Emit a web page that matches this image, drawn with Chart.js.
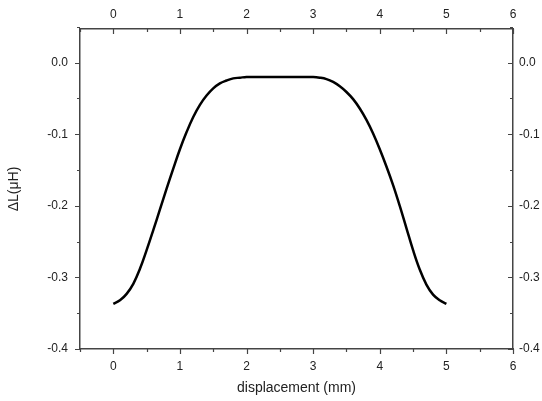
<!DOCTYPE html>
<html>
<head>
<meta charset="utf-8">
<script src="https://cdn.jsdelivr.net/npm/chart.js@4/dist/chart.umd.min.js"></script>
<style>
  body { margin: 0; background: #fff; }
  #wrap { width: 542px; height: 401px; }
</style>
</head>
<body>
<div id="wrap"><canvas id="chart" width="542" height="401"></canvas></div>
<script>
const displacement = [0, 0.1, 0.2, 0.3, 0.4, 0.5, 0.6, 0.7, 0.8, 0.9, 1.0, 1.1, 1.2, 1.3, 1.4, 1.5, 1.6, 1.7, 1.8, 1.9,
    2.0, 2.2, 2.5, 2.8, 3.0, 3.1, 3.2, 3.3, 3.4, 3.5, 3.6, 3.7, 3.8, 3.9, 4.0, 4.1, 4.2, 4.3, 4.4, 4.5, 4.6, 4.7, 4.8, 4.9, 5.0];
const deltaL = [-0.337, -0.332, -0.323, -0.309, -0.288, -0.262, -0.234, -0.205, -0.176, -0.148, -0.121, -0.097, -0.076, -0.059, -0.046, -0.036, -0.029, -0.025, -0.022, -0.021,
    -0.020, -0.020, -0.020, -0.020, -0.020, -0.021, -0.023, -0.027, -0.033, -0.041, -0.051, -0.064, -0.080, -0.099, -0.121, -0.145, -0.171, -0.200, -0.231, -0.262, -0.289, -0.310, -0.324, -0.332, -0.337];

const xTicks = [0, 1, 2, 3, 4, 5, 6];
const yTicks = [0.0, -0.1, -0.2, -0.3, -0.4];

const axisColor = '#444';
const font = { family: 'Liberation Sans, Arial, sans-serif', size: 12 };

// tick marks drawn by hand: major + minor, in/out like the original
const tickMarks = {
    id: 'tickMarks',
    afterDraw(chart) {
        const ctx = chart.ctx;
        const s = chart.scales;
        ctx.save();
        ctx.strokeStyle = axisColor;
        ctx.lineWidth = 1.2;
        ctx.beginPath();
        for (let v = -0.5; v <= 6.001; v += 0.5) {
            const major = Math.abs(v - Math.round(v)) < 1e-6;
            const len = major ? 5 : 3;
            const px = Math.round(s.x.getPixelForValue(v)) + 0.5;
            ctx.moveTo(px, s.x.top); ctx.lineTo(px, s.x.top + len);
            ctx.moveTo(px, s.x2.bottom); ctx.lineTo(px, s.x2.bottom + len);
        }
        for (let v = -0.4; v <= 0.0501; v += 0.05) {
            const major = Math.abs(v * 10 - Math.round(v * 10)) < 1e-6;
            const len = major ? 5 : 3;
            const py = Math.round(s.y.getPixelForValue(v)) + 0.5;
            ctx.moveTo(s.y.right, py); ctx.lineTo(s.y.right - len, py);
            ctx.moveTo(s.y2.left, py); ctx.lineTo(s.y2.left - len, py);
        }
        ctx.stroke();
        ctx.restore();
    }
};

const fixSize = (w, h) => scale => {
    if (w !== null) scale.width = w;
    if (h !== null) scale.height = h;
};

new Chart(document.querySelector('#chart'), {
    type: 'scatter',
    data: {
        datasets: [{
            data: displacement.map((x, i) => ({ x: x, y: deltaL[i] })),
            showLine: true,
            borderColor: '#000',
            borderWidth: 2.5,
            pointRadius: 0,
            tension: 0.4,
            fill: false
        }]
    },
    options: {
        responsive: false,
        animation: false,
        layout: { padding: 0 },
        plugins: {
            legend: { display: false },
            tooltip: { enabled: false }
        },
        scales: {
            x: {
                type: 'linear', position: 'bottom', min: -0.5, max: 6,
                afterBuildTicks: sc => { sc.ticks = xTicks.map(v => ({ value: v })); },
                afterFit: fixSize(null, 52),
                grid: { display: false, drawTicks: false },
                border: { display: true, color: axisColor, width: 1.5 },
                ticks: { padding: 10, color: '#222', font: font, callback: v => v },
                title: { display: true, text: 'displacement (mm)', color: '#222',
                    font: { family: font.family, size: 14 }, padding: { top: 4 } }
            },
            x2: {
                type: 'linear', position: 'top', min: -0.5, max: 6,
                afterBuildTicks: sc => { sc.ticks = xTicks.map(v => ({ value: v })); },
                afterFit: fixSize(null, 29),
                grid: { display: false, drawTicks: false },
                border: { display: true, color: axisColor, width: 1.5 },
                ticks: { padding: 7, color: '#222', font: font, callback: v => v }
            },
            y: {
                type: 'linear', position: 'left', min: -0.4, max: 0.047,
                afterBuildTicks: sc => { sc.ticks = yTicks.map(v => ({ value: v })); },
                afterFit: fixSize(80, null),
                grid: { display: false, drawTicks: false },
                border: { display: true, color: axisColor, width: 1.5 },
                ticks: { padding: 12, color: '#222', font: font, callback: v => v.toFixed(1) },
                title: { display: true, text: 'ΔL(μH)', color: '#222',
                    font: { family: font.family, size: 14 }, padding: { top: 6, bottom: 0 } }
            },
            y2: {
                type: 'linear', position: 'right', min: -0.4, max: 0.047,
                afterBuildTicks: sc => { sc.ticks = yTicks.map(v => ({ value: v })); },
                afterFit: fixSize(29, null),
                grid: { display: false, drawTicks: false },
                border: { display: true, color: axisColor, width: 1.5 },
                ticks: { padding: 6, color: '#222', font: font, callback: v => v.toFixed(1) }
            }
        }
    },
    plugins: [tickMarks]
});
</script>
</body>
</html>
